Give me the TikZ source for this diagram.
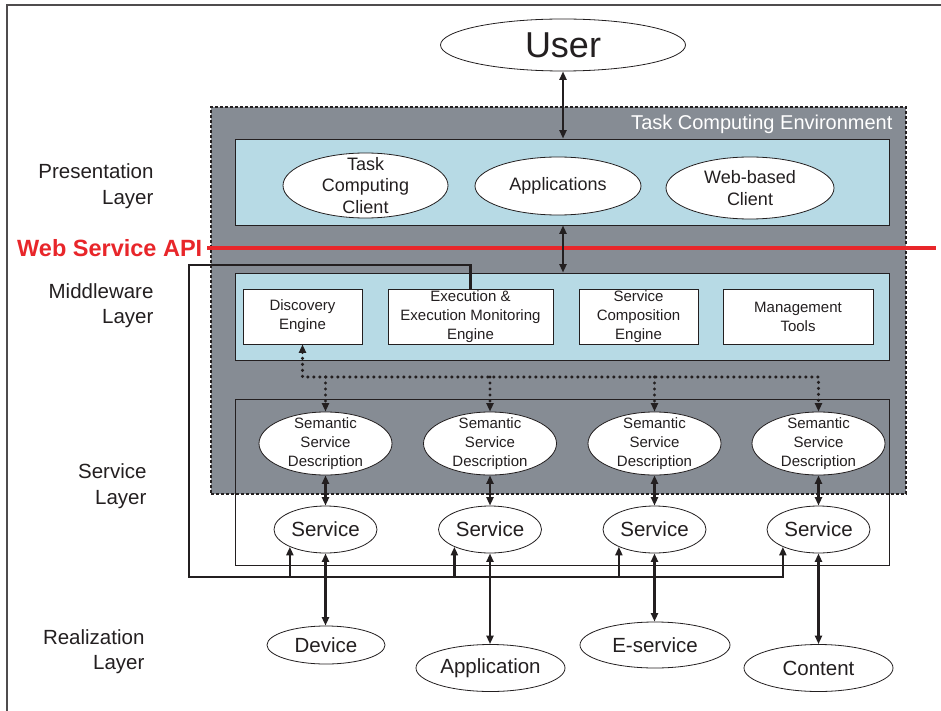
\documentclass[tikz,border=0pt]{standalone}
\usepackage{fontspec}
\setmainfont{Liberation Sans}
\usetikzlibrary{shapes.geometric,arrows.meta}
\definecolor{tcgray}{RGB}{134,140,148}
\definecolor{tcblue}{RGB}{183,218,229}
\definecolor{apired}{RGB}{232,38,42}
\definecolor{ink}{RGB}{35,31,32}
\begin{document}
\begin{tikzpicture}[x=1pt,y=-1pt,
  >={Triangle[length=8.5pt,width=7pt]},
  ell/.style={ellipse,draw=ink,line width=0.8pt,fill=white,inner sep=0pt,text=ink},
  mbox/.style={rectangle,draw=ink,line width=0.8pt,fill=white,inner sep=0pt,text=ink,
     minimum height=55pt,align=center,font=\fontsize{15}{19}\selectfont},
  lbl/.style={align=right,anchor=east,text=ink,font=\fontsize{20.5}{25.5}\selectfont},
  small/.style={align=center,text=ink,font=\fontsize{15}{19}\selectfont},
  pres/.style={align=center,text=ink,font=\fontsize{18}{21.5}\selectfont},
  big/.style={font=\fontsize{20.5}{24}\selectfont},
  arr/.style={draw=ink,line width=2.4pt},
  bus/.style={draw=ink,line width=2.6pt},
  dots/.style={draw=ink,line width=3.4pt,dash pattern=on 0pt off 6pt,line cap=round},
  frame/.style={draw=ink!80,line width=1.2pt}
]
\useasboundingbox (0,0) rectangle (941,711);
\draw[frame] (7,711) -- (7,5) -- (941,5);

% environment and layer boxes
\node[rectangle,draw=ink,fill=tcgray,dashed,dash pattern=on 3pt off 2pt,line width=1.2pt,
      minimum width=695pt,minimum height=387pt,inner sep=0pt] (env) at (558.5,300.5) {};
\node[anchor=east,text=white,font=\fontsize{20}{24}\selectfont] (envt) at (896,124) {Task Computing Environment};
\node[rectangle,draw=ink,fill=tcblue,line width=0.8pt,minimum width=654pt,minimum height=86pt,inner sep=0pt] (pres) at (562,182) {};
\node[rectangle,draw=ink,fill=tcblue,line width=0.8pt,minimum width=654pt,minimum height=87pt,inner sep=0pt] (mid) at (562,316.5) {};
\node[rectangle,draw=ink,line width=0.8pt,minimum width=654pt,minimum height=166pt,inner sep=0pt] (svcbox) at (562,482) {};

% user
\node[ell,minimum width=245pt,minimum height=52pt,font=\fontsize{36}{40}\selectfont] (user) at (563,45) {User};

% presentation ellipses
\node[ell,minimum width=165pt,minimum height=65pt,label={[pres]center:Task\\Computing\\Client}] (tcc) at (365.5,185.5) {};
\node[ell,minimum width=166pt,minimum height=58pt,label={[pres]center:Applications}] (apps) at (558,186) {};
\node[ell,minimum width=168pt,minimum height=62pt,label={[pres]center:Web-based\\Client}] (web) at (750,188) {};

% middleware boxes
\node[mbox,minimum width=119pt] (disc) at (302.5,316.5) {Discovery\\Engine};
\node[mbox,minimum width=165pt] (exec) at (470.5,316.5) {Execution \&\\Execution Monitoring\\Engine};
\node[mbox,minimum width=119pt] (comp) at (638.5,316.5) {Service\\Composition\\Engine};
\node[mbox,minimum width=150pt] (mgmt) at (798,316.5) {Management\\Tools};

% semantic service descriptions
\foreach \n/\x in {1/325.5,2/490,3/654.5,4/818.5}{
  \node[ell,minimum width=133pt,minimum height=63pt,label={[small]center:Semantic\\Service\\Description}] (ssd\n) at (\x,443.5) {};
  \node[ell,minimum width=103pt,minimum height=47pt,big] (svc\n) at (\x,529.5) {Service};
}

% realization
\node[ell,minimum width=118pt,minimum height=38pt,big] (dev) at (326,645) {Device};
\node[ell,minimum width=149pt,minimum height=47pt,big] (app) at (490.5,668) {Application};
\node[ell,minimum width=150pt,minimum height=46pt,big] (esv) at (655,645) {E-service};
\node[ell,minimum width=149pt,minimum height=47pt,big] (cont) at (818.5,668) {Content};

% layer labels
\node[lbl] (lp) at (157,186) {Presentation\\Layer};
\node[lbl] (lm) at (157,305.5) {Middleware\\Layer};
\node[lbl] (ls) at (150,486) {Service\\Layer};
\node[lbl] (lr) at (148,651.5) {Realization\\Layer};

% web service API
\node[anchor=west,text=apired,font=\bfseries\fontsize{23.5}{28}\selectfont,inner sep=0pt] (api) at (17,248) {Web Service API};
\coordinate (apiend) at (936,248);
\draw[apired,line width=4pt] (api.east) ++(5,0) coordinate (apistart) -- (apiend);

% vertical arrows in upper part
\draw[arr,<->] (user.south) -- (user.south |- pres.north);
\draw[arr,<->] (user.south |- pres.south) -- (user.south |- mid.north);

% dotted discovery links
\coordinate (dl) at (302.5,377);
\coordinate (dr) at (818.5,377);
\draw[dots,<->] (disc.south) -- (dl) -- (dr) -- (ssd4.north);
\foreach \n in {1,2,3}{
  \draw[dots,->] (ssd\n.north |- dl) -- (ssd\n.north);
}

% ssd-service and service-realization arrows
\foreach \n in {1,2,3,4}{
  \draw[arr,<->] (ssd\n.south) -- (svc\n.north);
}
\draw[arr,<->] (svc1.south) -- (svc1.south |- dev.north);
\draw[arr,<->] (svc2.south) -- (svc2.south |- app.north);
\draw[arr,<->] (svc3.south) -- (svc3.south |- esv.north);
\draw[arr,<->] (svc4.south) -- (svc4.south |- cont.north);

% execution bus
\coordinate (bt) at (189,265);
\coordinate (bl) at (189,577);
\draw[bus,->] (exec.north) |- (bt) -- (bl) -| (svc4.206);
\foreach \n in {1,2,3}{
  \draw[bus,->] (svc\n.206 |- bl) -- (svc\n.206);
}
\end{tikzpicture}
\end{document}
